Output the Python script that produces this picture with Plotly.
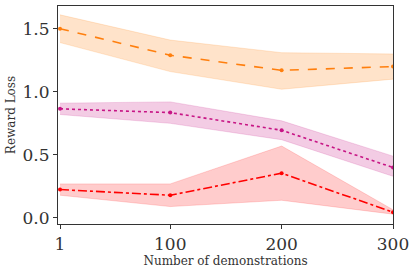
import plotly.graph_objects as go

x = [1, 100, 200, 300]
tick_vals = [1, 100, 200, 300]
tick_text = ["1", "100", "200", "300"]

orange_mean = [1.50, 1.29, 1.17, 1.20]
orange_lo = [1.39, 1.16, 1.02, 1.10]
orange_hi = [1.61, 1.41, 1.31, 1.30]

pink_mean = [0.865, 0.835, 0.695, 0.40]
pink_lo = [0.82, 0.75, 0.62, 0.33]
pink_hi = [0.91, 0.92, 0.77, 0.49]

red_mean = [0.225, 0.18, 0.355, 0.045]
red_lo = [0.18, 0.09, 0.14, 0.03]
red_hi = [0.27, 0.27, 0.57, 0.065]

series = [
    (orange_mean, orange_lo, orange_hi, "#ff7f0e", "rgba(255,127,14,0.22)", "dash"),
    (pink_mean, pink_lo, pink_hi, "#c71585", "rgba(199,21,133,0.22)", "dot"),
    (red_mean, red_lo, red_hi, "#ff0000", "rgba(255,0,0,0.2)", "dashdot"),
]

fig = go.Figure()
for mean, lo, hi, col, fill, dash in series:
    fig.add_trace(go.Scatter(x=x, y=hi, mode="lines", line=dict(width=0.8, color=fill),
                             showlegend=False, hoverinfo="skip"))
    fig.add_trace(go.Scatter(x=x, y=lo, mode="lines", line=dict(width=0.8, color=fill),
                             fill="tonexty", fillcolor=fill, showlegend=False, hoverinfo="skip"))
    fig.add_trace(go.Scatter(x=x, y=mean, mode="lines+markers",
                             line=dict(color=col, width=1.6, dash=dash),
                             marker=dict(color=col, size=4), showlegend=False))

axis_common = dict(showline=True, linecolor="#333333", linewidth=1.2, mirror=True,
                   ticks="outside", ticklen=4, tickcolor="#333333", showgrid=False,
                   zeroline=False, automargin=False)
fig.update_xaxes(range=[-0.8, 300], tickvals=tick_vals, ticktext=tick_text,
                 tickfont=dict(family="DejaVu Serif", size=17, color="#333333"),
                 title=dict(text="Number of demonstrations", standoff=4,
                            font=dict(family="DejaVu Serif", size=12, color="#333333")),
                 **axis_common)
fig.update_yaxes(range=[-0.048, 1.68], tickvals=[0.0, 0.5, 1.0, 1.5],
                 ticktext=["0.0", "0.5", "1.0", "1.5"],
                 tickfont=dict(family="DejaVu Serif", size=17, color="#333333"),
                 title=dict(text="Reward Loss", standoff=4,
                            font=dict(family="DejaVu Serif", size=12, color="#333333")),
                 **axis_common)
fig.update_layout(width=412, height=272, margin=dict(l=58, r=19, t=6, b=48),
                  plot_bgcolor="white", paper_bgcolor="white")
fig.write_html("out.html", config={"displayModeBar": False},
               post_script="document.body.style.margin='0';")
